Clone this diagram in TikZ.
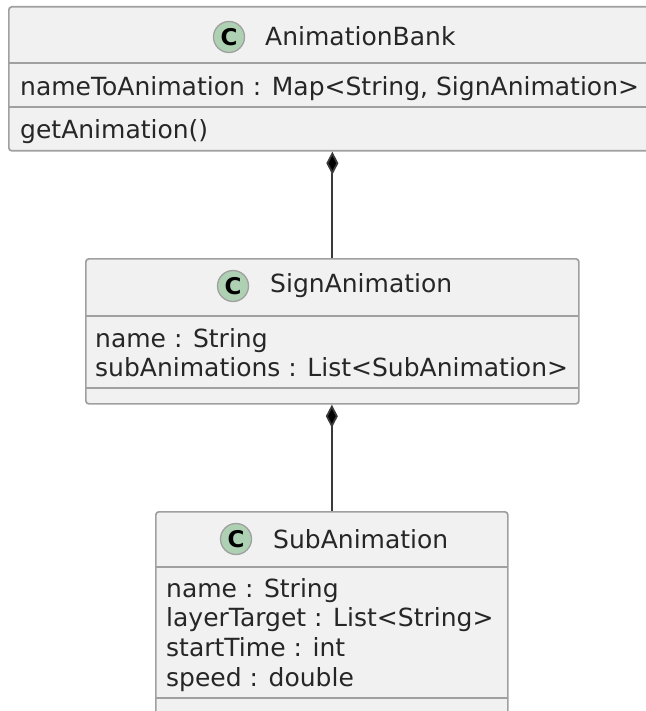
\documentclass[tikz,border=0pt]{standalone}
\usepackage{fontspec}
\setmainfont{DejaVu Sans}
\usetikzlibrary{arrows.meta}
\definecolor{boxfill}{HTML}{F1F1F1}
\definecolor{boxline}{HTML}{A0A0A0}
\definecolor{badgefill}{HTML}{ADD1B2}
\definecolor{linkcol}{HTML}{3A3A3A}
\tikzset{
  x=1pt, y=-1pt,
  classbox/.style={draw=boxline, fill=boxfill, line width=1.7pt, rounded corners=3pt,
    anchor=north west, inner sep=0pt},
  sepline/.style={draw=boxline, line width=1.7pt},
  badge/.style={circle, draw=boxline, fill=badgefill, line width=1.3pt, minimum size=31pt,
    inner sep=0pt, font=\fontsize{23}{23}\selectfont\bfseries},
  title/.style={anchor=west, inner sep=0pt, font=\fontsize{25}{28}\selectfont, text=black!85},
  member/.style={anchor=north west, inner sep=0pt, align=left,
    font=\fontsize{25}{29.7}\selectfont, text=black!85},
  comp/.style={draw=linkcol, line width=1.8pt,
    {Diamond[length=23pt, width=12pt, fill=black]}-}
}
\begin{document}
\begin{tikzpicture}
\useasboundingbox (0,0) rectangle (645,711);
\fill[white] (0,0) rectangle (645,711);

% AnimationBank
\node[classbox, minimum width=645pt, minimum height=144pt] (bank) at (8,6) {};
\draw[sepline] (8,63) -- (653,63);
\draw[sepline] (8,107) -- (653,107);
\node[badge] (bankC) at (229,37) {C};
\node[title] (bankT) at (265,36) {AnimationBank};
\node[member] (bankA) at (20,76) {nameToAnimation : Map<String, SignAnimation>};
\node[member] (bankM) at (20,119) {getAnimation()};

% SignAnimation
\node[classbox, minimum width=493pt, minimum height=145pt] (sign) at (85,258) {};
\draw[sepline] (85,316) -- (578,316);
\draw[sepline] (85,388) -- (578,388);
\node[badge] (signC) at (233,286) {C};
\node[title] (signT) at (270,286) {SignAnimation};
\node[member] (signA) at (95,328) {name : String\\subAnimations : List<SubAnimation>};

% SubAnimation
\node[classbox, minimum width=352pt, minimum height=205pt] (sub) at (155,511) {};
\draw[sepline] (155,567) -- (507,567);
\draw[sepline] (155,698) -- (507,698);
\node[badge] (subC) at (236,539) {C};
\node[title] (subT) at (273,539) {SubAnimation};
\node[member] (subA) at (166,578) {name : String\\layerTarget : List<String>\\startTime : int\\speed : double};

% composition links
\draw[comp] (sign.north |- bank.south) -- (sign.north);
\draw[comp] (sub.north |- sign.south) -- (sub.north);
\end{tikzpicture}
\end{document}
